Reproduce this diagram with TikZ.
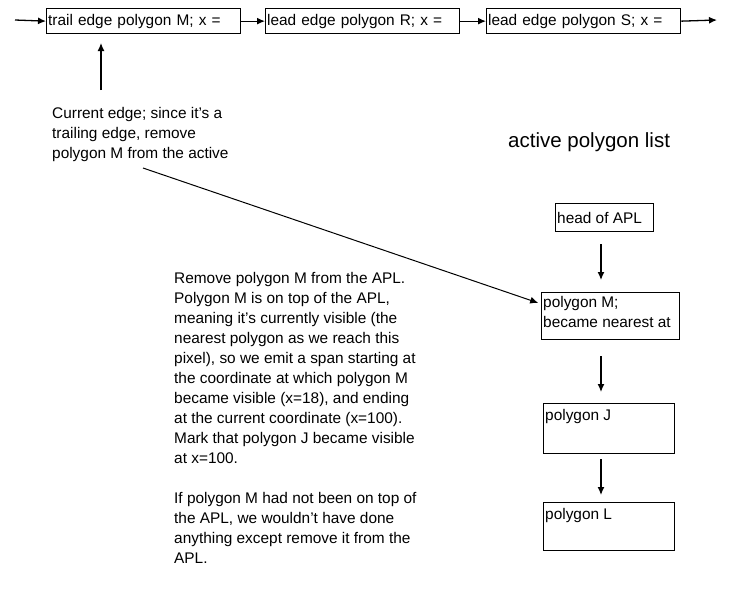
\documentclass[tikz,border=0pt]{standalone}
\usepackage{fontspec}
\setmainfont{Liberation Sans}
\usetikzlibrary{arrows.meta}
\tikzset{
 listbox/.style={draw, line width=1.3pt, anchor=north west, minimum height=25pt,
   text width=191pt, align=left, inner sep=1.5pt},
 aplbox/.style={draw, line width=1.3pt, anchor=north west, inner sep=0pt},
 boxtext/.style={anchor=north west, inner xsep=2pt, inner ysep=4pt, align=left},
 link/.style={-{Latex[length=8pt,width=7pt]}, line width=1.3pt},
 }

\begin{document}
\begin{tikzpicture}[x=1pt, y=-1pt, font=\fontsize{15.4}{20}\selectfont]
    \useasboundingbox (0,0) rectangle (733,600);
    % edge list along the scan line
    \coordinate (listin) at (15,20);
    \node[listbox] (trailM) at (46,8) {trail edge polygon M; x =};
    \node[listbox] (leadR) at (265,8) {lead edge polygon R; x =};
    \node[listbox] (leadS) at (486,8) {lead edge polygon S; x =};
    \coordinate (listout) at (717,20);
    \draw[link] (listin) -- (trailM.west);
    \draw[link] (trailM.east) -- (leadR.west);
    \draw[link] (leadR.east) -- (leadS.west);
    \draw[link] (leadS.east) -- (listout);

    % current edge note
    \coordinate (curfoot) at (101,90);
    \coordinate (curtip) at (101,43);
    \draw[link] (curfoot) -- (curtip);
    \node[anchor=north west, inner sep=0pt, align=left] (curnote) at (52,107)
        {Current edge; since it's a\\trailing edge, remove\\polygon M from the active};

    % active polygon list
    \node[anchor=west, inner sep=0pt, font=\fontsize{20.5}{24}\selectfont] (apltitle) at (508,142) {active polygon list};
    \node[aplbox, minimum width=98pt, minimum height=28pt] (head) at (555,203) {};
    \node[boxtext, anchor=west] (headtxt) at (head.west) {head of APL};
    \node[aplbox, minimum width=138pt, minimum height=47pt] (polyM) at (541,292) {};
    \node[boxtext] (polyMtxt) at (polyM.north west) {polygon M;\\became nearest at};
    \node[aplbox, minimum width=131pt, minimum height=50pt] (polyJ) at (543,403) {};
    \node[boxtext, inner ysep=6pt] (polyJtxt) at (polyJ.north west) {polygon J};
    \node[aplbox, minimum width=131pt, minimum height=48pt] (polyL) at (543,502) {};
    \node[boxtext, inner ysep=6pt] (polyLtxt) at (polyL.north west) {polygon L};

    \coordinate (aplx) at (601,0);
    \draw[link, shorten <=12pt, shorten >=12pt] (head.south -| aplx) -- (polyM.north -| aplx);
    \draw[link, shorten <=16pt, shorten >=11pt] (polyM.south -| aplx) -- (polyJ.north -| aplx);
    \draw[link, shorten <=5pt, shorten >=7pt] (polyJ.south -| aplx) -- (polyL.north -| aplx);

    % note to polygon M
    \coordinate (notefoot) at (143,168);
    \draw[link, line width=1pt, shorten >=3pt] (notefoot) -- (polyM.170);

    \node[anchor=north west, inner sep=0pt, align=left] (explain) at (174,272)
        {Remove polygon M from the APL.\\
         Polygon M is on top of the APL,\\
         meaning it's currently visible (the\\
         nearest polygon as we reach this\\
         pixel), so we emit a span starting at\\
         the coordinate at which polygon M\\
         became visible (x=18), and ending\\
         at the current coordinate (x=100).\\
         Mark that polygon J became visible\\
         at x=100.\\[20pt]
         If polygon M had not been on top of\\
         the APL, we wouldn't have done\\
         anything except remove it from the\\
         APL.};
\end{tikzpicture}
\end{document}
